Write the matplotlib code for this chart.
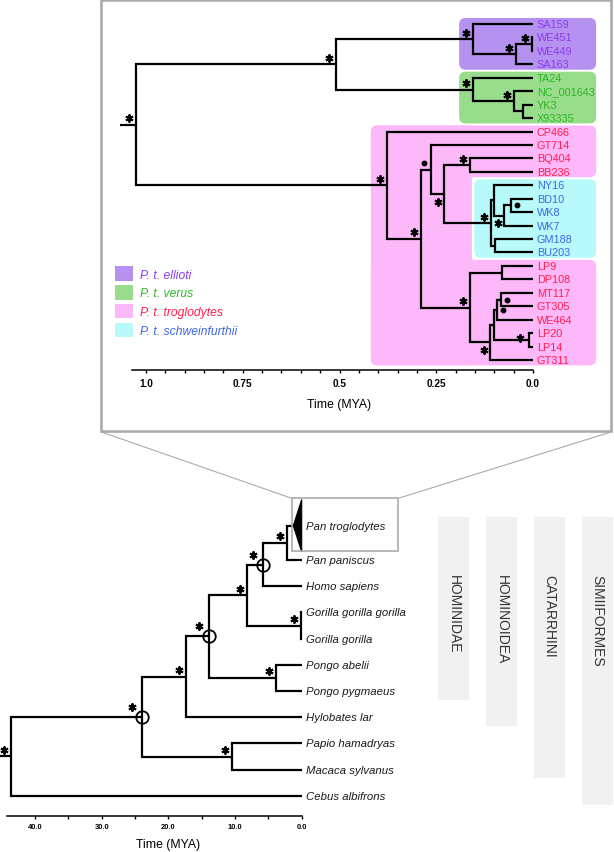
import matplotlib
matplotlib.use('Agg')
import matplotlib.pyplot as plt
import matplotlib.patches as mpatches
import matplotlib.transforms as mtransforms
from matplotlib.lines import Line2D
from matplotlib.ticker import FixedLocator
import numpy as np

plt.rcParams['font.family'] = ['Liberation Sans', 'DejaVu Sans']

# ---------------- chimpanzee tree (top panel) ----------------
chimp_tips = ['SA159', 'WE451', 'WE449', 'SA163', 'TA24', 'NC_001643', 'YK3', 'X93335',
              'CP466', 'GT714', 'BQ404', 'BB236', 'NY16', 'BD10', 'WK8', 'WK7', 'GM188', 'BU203',
              'LP9', 'DP108', 'MT117', 'GT305', 'WE464', 'LP20', 'LP14', 'GT311']
chimp_subsp = (['ellioti'] * 4 + ['verus'] * 4 + ['troglodytes'] * 4 +
               ['schweinfurthii'] * 6 + ['troglodytes'] * 8)

# name -> (children, age in MYA, support)   '*' strong support, '.' moderate
chimp_nodes = {
    'we':   (['WE451', 'WE449'], 0.003, '*'),
    'ell2': (['we', 'SA163'], 0.044, '*'),
    'ell':  (['SA159', 'ell2'], 0.156, '*'),
    'v3':   (['YK3', 'X93335'], 0.027, ''),
    'v2':   (['NC_001643', 'v3'], 0.048, '*'),
    'ver':  (['TA24', 'v2'], 0.155, '*'),
    'ev':   (['ell', 'ver'], 0.51, '*'),
    'bq':   (['BQ404', 'BB236'], 0.163, '*'),
    'bd':   (['BD10', 'WK8'], 0.058, '.'),
    'bdw':  (['bd', 'WK7'], 0.074, '*'),
    'ny':   (['NY16', 'bdw'], 0.100, ''),
    'gm':   (['GM188', 'BU203'], 0.099, ''),
    'schw': (['ny', 'gm'], 0.109, '*'),
    'bqs':  (['bq', 'schw'], 0.23, '*'),
    'gt':   (['GT714', 'bqs'], 0.263, '.'),
    'lp9':  (['LP9', 'DP108'], 0.079, ''),
    'mt':   (['MT117', 'GT305'], 0.083, '.'),
    'mtw':  (['mt', 'WE464'], 0.093, '.'),
    'lp20': (['LP20', 'LP14'], 0.010, '*'),
    'mwl':  (['mtw', 'lp20'], 0.101, ''),
    'g311': (['mwl', 'GT311'], 0.111, '*'),
    'low':  (['lp9', 'g311'], 0.163, '*'),
    'tr2':  (['gt', 'low'], 0.29, '*'),
    'trog': (['CP466', 'tr2'], 0.378, '*'),
    'root': (['ev', 'trog'], 1.027, '*'),
}
chimp_stem = 1.067
chimp_ticks = [1.0, 0.75, 0.5, 0.25, 0.0]
chimp_tick_labels = ['1.0', '0.75', '0.5', '0.25', '0.0']

subsp_names = ['ellioti', 'verus', 'troglodytes', 'schweinfurthii']
subsp_labels = ['P. t. ellioti', 'P. t. verus', 'P. t. troglodytes', 'P. t. schweinfurthii']

# ---------------- primate tree (bottom panel) ----------------
primate_tips = ['Pan troglodytes', 'Pan paniscus', 'Homo sapiens', 'Gorilla gorilla gorilla',
                'Gorilla gorilla', 'Pongo abelii', 'Pongo pygmaeus', 'Hylobates lar',
                'Papio hamadryas', 'Macaca sylvanus', 'Cebus albifrons']
primate_nodes = {
    'pan':        (['Pan troglodytes', 'Pan paniscus'], 2.16, '*'),
    'hominini':   (['pan', 'Homo sapiens'], 5.75, '*'),
    'gorilla':    (['Gorilla gorilla gorilla', 'Gorilla gorilla'], 0.1, '*'),
    'homininae':  (['hominini', 'gorilla'], 8.15, '*'),
    'pongo':      (['Pongo abelii', 'Pongo pygmaeus'], 3.9, '*'),
    'hominidae':  (['homininae', 'pongo'], 13.9, '*'),
    'hominoidea': (['hominidae', 'Hylobates lar'], 17.4, '*'),
    'cercop':     (['Papio hamadryas', 'Macaca sylvanus'], 10.5, '*'),
    'catarrhini': (['hominoidea', 'cercop'], 24.0, '*'),
    'root':       (['catarrhini', 'Cebus albifrons'], 43.65, '*'),
}
primate_stem = 45.25
calibrated = ['hominini', 'hominidae', 'catarrhini']
collapsed_tip = 'Pan troglodytes'
collapsed_age = 1.26
primate_ticks = [40, 30, 20, 10, 0]
primate_tick_labels = ['40.0', '30.0', '20.0', '10.0', '0.0']

groups = ['HOMINIDAE', 'HOMINOIDEA', 'CATARRHINI', 'SIMIIFORMES']
group_last = ['Pongo pygmaeus', 'Hylobates lar', 'Macaca sylvanus', 'Cebus albifrons']

# ---------------- styles ----------------
box_color = {'ellioti': '#b692f0', 'verus': '#98dc8c', 'troglodytes': '#fdb8fa',
             'schweinfurthii': '#b8fafa'}
text_color = {'ellioti': '#8a3cf0', 'verus': '#2fb52a', 'troglodytes': '#ff1f4b',
              'schweinfurthii': '#3d67e6'}
frame_gray = '#ababab'
side_offset = {'ul': (-7, 6.5), 'll': (-6, -7.5), 'r': (6, 0), 'l': (-9, 2), 'ulc': (-10, 10)}
chimp_sides = {'bqs': 'll', 'bdw': 'll', 'g311': 'll', 'bd': 'r', 'mt': 'r', 'mtw': 'r', 'lp20': 'l'}
primate_sides = {n: 'ulc' for n in calibrated}

W, H = 614, 853
fig = plt.figure(figsize=(W / 100, H / 100), dpi=100)


def fx(px):
    return px / W


def fy(py):
    return 1 - py / H


def layout(nodes, tip_y, name, pos):
    if name in tip_y:
        pos[name] = (0.0, tip_y[name])
    else:
        kids, age, _ = nodes[name]
        ys = [layout(nodes, tip_y, k, pos)[1] for k in kids]
        pos[name] = (age, np.mean(ys))
    return pos[name]


def draw_tree(ax, nodes, pos, stem, lw=1.6):
    for name, (kids, age, sup) in nodes.items():
        x0, y0 = pos[name]
        for k in kids:
            xk, yk = pos[k]
            ax.plot([x0, x0, xk], [y0, yk, yk], color='black', lw=lw,
                    solid_joinstyle='miter', solid_capstyle='butt', clip_on=False)
    rx, ry = pos['root']
    ax.plot([stem, rx], [ry, ry], color='black', lw=lw, solid_capstyle='butt', clip_on=False)


def draw_support(ax, nodes, pos, sides):
    for name, (kids, age, sup) in nodes.items():
        if not sup:
            continue
        dx, dy = side_offset[sides.get(name, 'ul')]
        tr = mtransforms.offset_copy(ax.transData, fig=fig, x=dx, y=dy, units='dots')
        x, y = pos[name]
        if sup == '*':
            ax.plot(x, y, marker=(6, 2, 0), ms=5.8, mew=1.4, color='black',
                    transform=tr, clip_on=False)
        else:
            ax.plot(x, y, 'o', ms=3.2, color='black', transform=tr, clip_on=False)


def style_axis(ax, ticks, labels, bound, minor, size, pad):
    for s in ['left', 'top', 'right']:
        ax.spines[s].set_visible(False)
    ax.spines['bottom'].set_bounds(0, bound)
    ax.spines['bottom'].set_linewidth(1.1)
    ax.set_yticks([])
    ax.set_xticks(ticks)
    ax.set_xticklabels(labels, fontweight='bold')
    ax.xaxis.set_minor_locator(FixedLocator(np.arange(0, max(ticks) + minor / 2, minor)))
    ax.tick_params(axis='x', which='both', direction='out', length=2.5, width=1,
                   labelsize=size, pad=pad)
    ax.set_facecolor('none')


# ================= top panel =================
ax1 = fig.add_axes([fx(110), fy(370.7), (600 - 110) / W, (370.7 - 10) / H])
ax1.set_xlim(1.093, -0.173)
ax1.set_ylim(25.72, -1.116)

# coloured subspecies backgrounds (rounded boxes)
px_per_x = 490 / (1.093 + 0.173)
px_per_row = 360.7 / (25.72 + 1.116)
r = 6.5 / px_per_x
aspect = (6.5 / px_per_row) / r
right_t = -0.163


def rbox(t_left, row_top, row_bot, color):
    p = mpatches.FancyBboxPatch((right_t, row_top), t_left - right_t, row_bot - row_top,
                                boxstyle=f'round,pad=0,rounding_size={r}',
                                mutation_aspect=aspect, fc=color, ec='none', zorder=0,
                                clip_on=False)
    ax1.add_patch(p)


rows = np.arange(len(chimp_tips))
sub = np.array(chimp_subsp)
ell_rows = rows[sub == 'ellioti']
ver_rows = rows[sub == 'verus']
sch_rows = rows[sub == 'schweinfurthii']
tro_rows = rows[sub == 'troglodytes']
tro_up = tro_rows[tro_rows < sch_rows.min()]
tro_lo = tro_rows[tro_rows > sch_rows.max()]
rbox(0.191, ell_rows.min() - 0.45, ell_rows.max() + 0.4, box_color['ellioti'])
rbox(0.191, ver_rows.min() - 0.45, ver_rows.max() + 0.4, box_color['verus'])
rbox(0.419, tro_up.min() - 0.45, tro_up.max() + 0.4, box_color['troglodytes'])
rbox(0.419, tro_lo.min() - 0.45, tro_lo.max() + 0.4, box_color['troglodytes'])
left_part = mpatches.FancyBboxPatch((0.158, tro_up.min() - 0.45), 0.419 - 0.158,
                                    tro_lo.max() + 0.4 - tro_up.min() + 0.45,
                                    boxstyle=f'round,pad=0,rounding_size={r}',
                                    mutation_aspect=aspect, fc=box_color['troglodytes'],
                                    ec='none', zorder=0)
ax1.add_patch(left_part)
rbox(0.152, sch_rows.min() - 0.45, sch_rows.max() + 0.4, box_color['schweinfurthii'])

chimp_y = dict(zip(chimp_tips, rows))
chimp_pos = {}
layout(chimp_nodes, chimp_y, 'root', chimp_pos)
draw_tree(ax1, chimp_nodes, chimp_pos, chimp_stem)
draw_support(ax1, chimp_nodes, chimp_pos, chimp_sides)

for name, s in zip(chimp_tips, chimp_subsp):
    ax1.annotate(name, (0, chimp_y[name]), xytext=(2.6, 0), textcoords='offset points',
                 va='center', ha='left', fontsize=7.8, color=text_color[s])

style_axis(ax1, chimp_ticks, chimp_tick_labels, 1.036, 0.05, 7.2, 3.5)
ax1.text(np.mean([chimp_ticks[0], chimp_ticks[-1]]), 28.27, 'Time (MYA)', ha='center',
         va='center', fontsize=8.8, clip_on=False)

handles = [mpatches.Patch(fc=box_color[s], ec='none') for s in subsp_names]
leg = ax1.legend(handles, subsp_labels, loc='upper left', bbox_to_anchor=(fx(115), fy(267.3)),
                 bbox_transform=fig.transFigure, frameon=False, borderpad=0, borderaxespad=0,
                 handlelength=1.46, handleheight=1.46, labelspacing=0.36, handletextpad=0.6,
                 prop={'style': 'italic', 'size': 8.7})
for t, s in zip(leg.get_texts(), subsp_names):
    t.set_color(text_color[s])

# ================= bottom panel =================
ax2 = fig.add_axes([0, fy(817.3), 1, (817.3 - 470) / H])
ax2.set_xlim(45.25, -46.84)
ax2.set_ylim(11.09, -2.164)

prow = np.arange(len(primate_tips)) + np.where(np.arange(len(primate_tips)) > 0, 0.31, 0)
primate_y = dict(zip(primate_tips, prow))
primate_pos = {}
layout(primate_nodes, primate_y, 'root', primate_pos)
primate_pos[collapsed_tip] = (collapsed_age, primate_y[collapsed_tip])
draw_tree(ax2, primate_nodes, primate_pos, primate_stem)

cy = primate_y[collapsed_tip]
ax2.add_patch(mpatches.Polygon([(collapsed_age, cy), (0, cy - 1.0), (0, cy + 1.0)],
                               closed=True, fc='black', ec='black', lw=0.8))
for n in calibrated:
    x, y = primate_pos[n]
    ax2.plot(x, y, 'o', ms=9, mfc='none', mec='black', mew=1.3)
draw_support(ax2, primate_nodes, primate_pos, primate_sides)

for name in primate_tips:
    ax2.annotate(name, (0, primate_y[name]), xytext=(3.3, 0), textcoords='offset points',
                 va='center', ha='left', fontsize=8.2, style='italic', color='#1a1a1a')

style_axis(ax2, primate_ticks, primate_tick_labels, 44.25, 5, 5.4, 2.5)
ax2.text(np.mean([primate_ticks[0], primate_ticks[-1]]), 12.15, 'Time (MYA)', ha='center',
         va='center', fontsize=8.8, clip_on=False)

# taxonomic group bars
blend = mtransforms.blended_transform_factory(fig.transFigure, ax2.transData)
top_row = primate_y[primate_tips[0]] - 0.32
for i, (g, last) in enumerate(zip(groups, group_last)):
    x0 = 438.3 + i * 47.8
    ax2.add_patch(mpatches.Rectangle((fx(x0), top_row), fx(31), primate_y[last] + 0.33 - top_row,
                                     transform=blend, fc='#f1f1f1', ec='none', zorder=0))
    ax2.text(fx(x0 + 15.5), 1.84, g, rotation=270, ha='center', va='top', transform=blend,
             fontsize=10, color='#333333')

# ================= zoom frame and connectors =================
fig.add_artist(mpatches.Rectangle((fx(101), fy(432)), fx(510), 431 / H, transform=fig.transFigure,
                                  fill=False, ec=frame_gray, lw=1.9))
fig.add_artist(mpatches.Rectangle((fx(291.7), fy(551.7)), fx(106.6), 52.4 / H,
                                  transform=fig.transFigure, fill=False, ec=frame_gray, lw=1.2))
fig.add_artist(Line2D([fx(101.5), fx(291.7)], [fy(433), fy(499.3)], transform=fig.transFigure,
                      color=frame_gray, lw=0.8))
fig.add_artist(Line2D([fx(611), fx(398.3)], [fy(433), fy(499.3)], transform=fig.transFigure,
                      color=frame_gray, lw=0.8))

fig.savefig('out.png', dpi=100)
